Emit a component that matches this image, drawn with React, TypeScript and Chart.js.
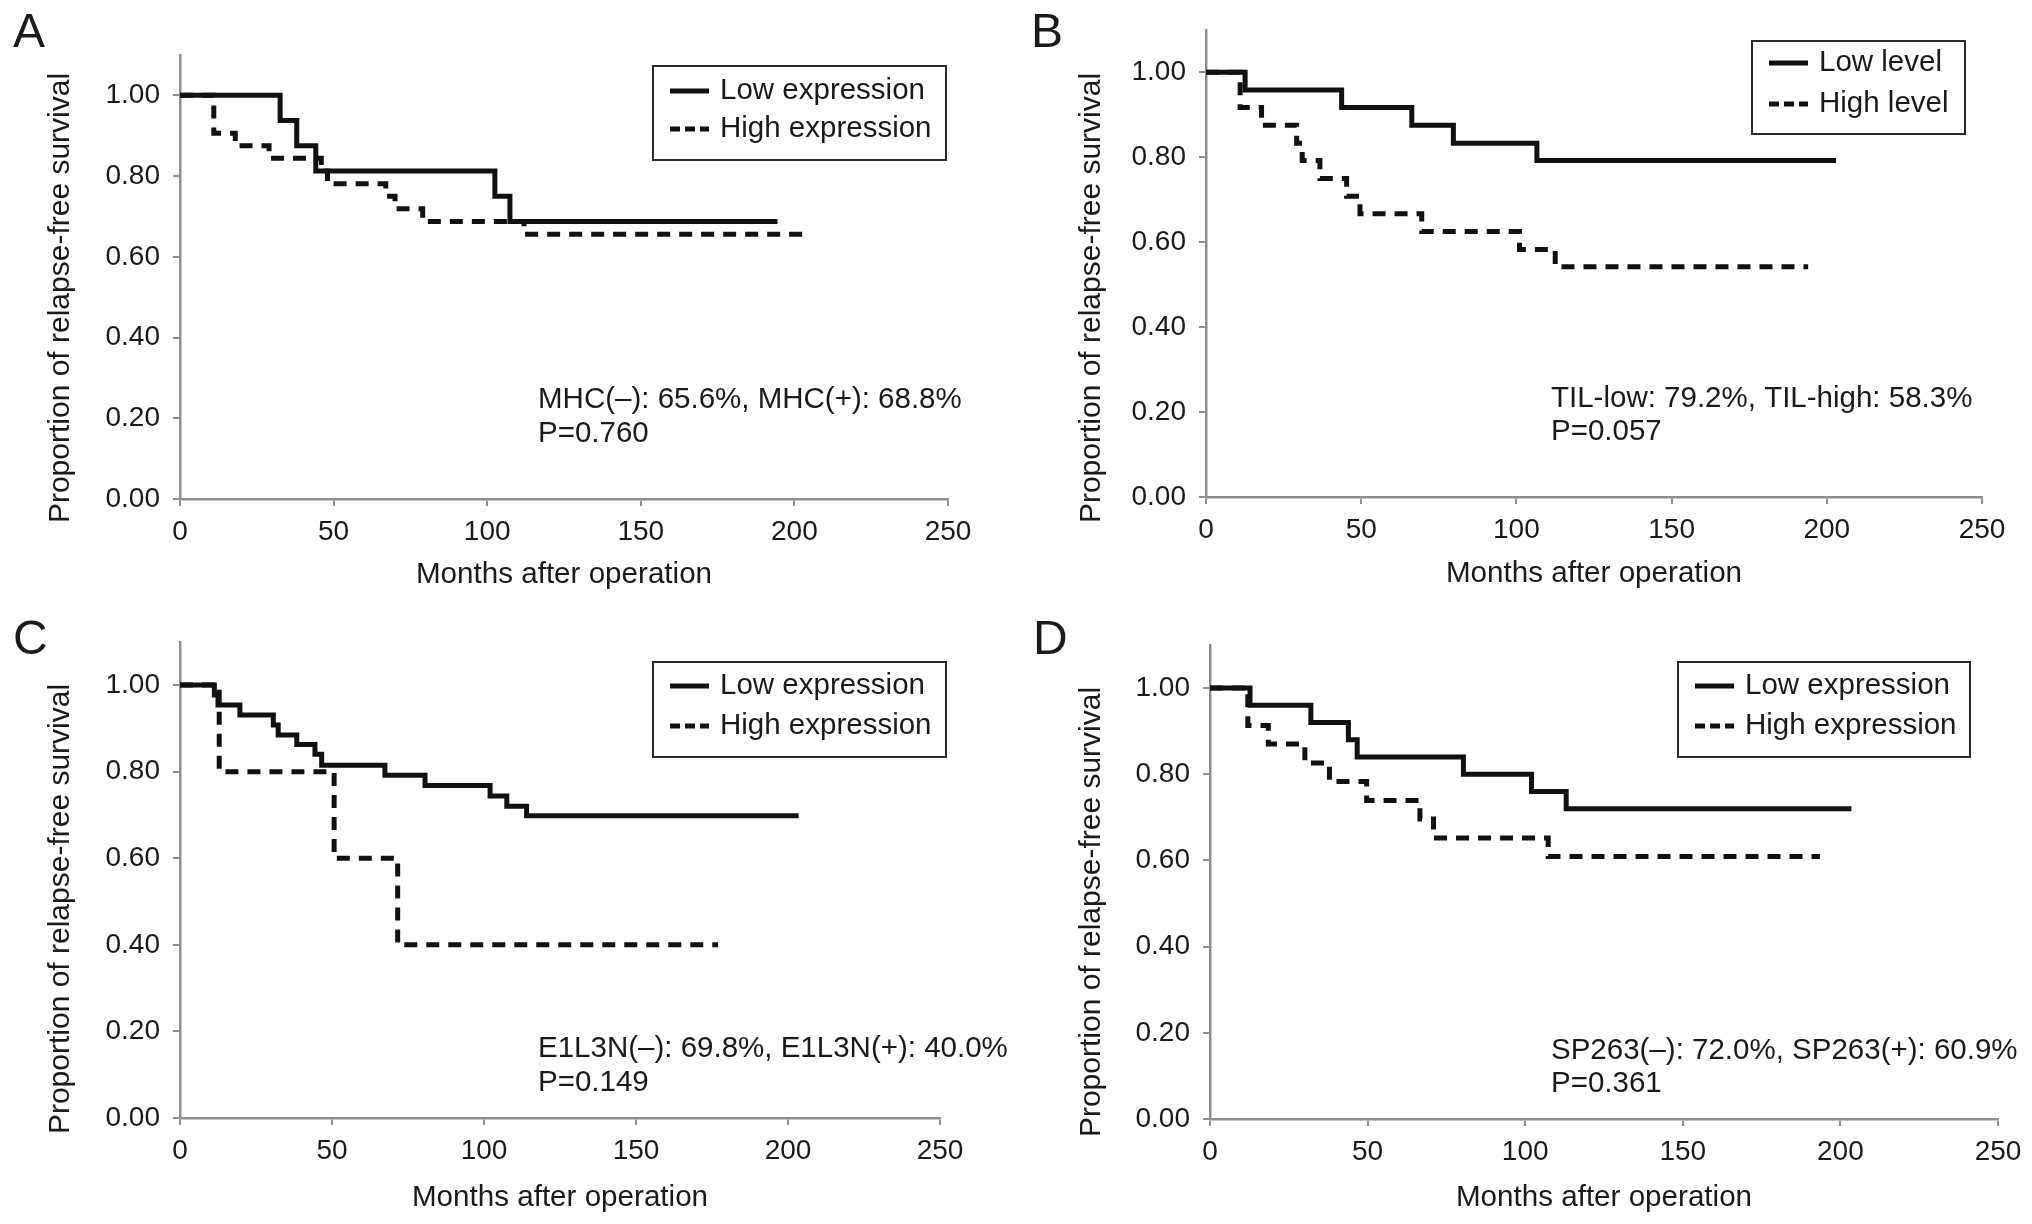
import React, { useEffect, useRef } from "react";
import { Chart, registerables } from "chart.js";

Chart.register(...registerables);

const FONT = '"Liberation Sans", Arial, Helvetica, sans-serif';

// ---------- data ----------
const xTickStep = 50;
const yTickStep = 0.2;
const yTitle = "Proportion of relapse-free survival";
const xTitle = "Months after operation";

// Panel A
const aLowMonths = [0, 32.6, 38, 44.2, 102.5, 107.4, 194.5];
const aLowSurv = [1, 0.9375, 0.875, 0.8125, 0.75, 0.6875, 0.6875];
const aHighMonths = [0, 11, 18, 29, 46, 48, 67, 70, 79, 112, 203];
const aHighSurv = [1, 0.906, 0.875, 0.844, 0.8125, 0.781, 0.75, 0.719, 0.6875, 0.656, 0.656];
const aLegend = ["Low expression", "High expression"];
const aNote = ["MHC(\u2013): 65.6%, MHC(+): 68.8%", "P=0.760"];

// Panel B
const bLowMonths = [0, 12.6, 43.7, 66.3, 79.7, 106.6, 203];
const bLowSurv = [1, 0.958, 0.917, 0.875, 0.833, 0.792, 0.792];
const bHighMonths = [0, 11, 17.9, 29.2, 31, 36.7, 45.3, 49.6, 69.5, 101, 112.5, 194];
const bHighSurv = [1, 0.917, 0.875, 0.833, 0.792, 0.75, 0.708, 0.667, 0.625, 0.583, 0.542, 0.542];
const bLegend = ["Low level", "High level"];
const bNote = ["TIL-low: 79.2%, TIL-high: 58.3%", "P=0.057"];

// Panel C
const cLowMonths = [0, 11.3, 12.5, 19.7, 30.7, 32.3, 38.4, 44.4, 46.6, 67.4, 80.6, 102, 107.5, 114, 203.5];
const cLowSurv = [1, 0.977, 0.954, 0.931, 0.908, 0.885, 0.863, 0.84, 0.815, 0.792, 0.768, 0.744, 0.72, 0.698, 0.698];
const cHighMonths = [0, 12.9, 50.7, 71.6, 177];
const cHighSurv = [1, 0.8, 0.6, 0.4, 0.4];
const cLegend = ["Low expression", "High expression"];
const cNote = ["E1L3N(\u2013): 69.8%, E1L3N(+): 40.0%", "P=0.149"];

// Panel D
const dLowMonths = [0, 12.7, 32, 43.9, 46.7, 80.4, 102, 113, 203.5];
const dLowSurv = [1, 0.96, 0.92, 0.88, 0.84, 0.8, 0.76, 0.72, 0.72];
const dHighMonths = [0, 12, 18.5, 30.1, 37.9, 49.7, 66.6, 70.9, 107.3, 193.5];
const dHighSurv = [1, 0.913, 0.87, 0.826, 0.783, 0.739, 0.696, 0.652, 0.609, 0.609];
const dLegend = ["Low expression", "High expression"];
const dNote = ["SP263(\u2013): 72.0%, SP263(+): 60.9%", "P=0.361"];

// ---------- layout (pixels, per panel canvas) ----------
const W = 1016;
const H = 612;

type Layout = {
  left: number; top: number; letter: string;
  plotL: number; plotR: number; plotT: number; plotB: number;
  legX: number; legY: number; legW: number; legH: number; row1: number; row2: number;
  noteX: number; note1: number; note2: number;
  yTitleX: number; yTitleY: number; xTitleY: number;
  letterTop: number; letterLeft: number;
};

const layouts: Layout[] = [
  { left: 0, top: 0, letter: "A", plotL: 180, plotR: 948, plotT: 55, plotB: 499,
    legX: 653, legY: 66, legW: 293, legH: 94, row1: 91, row2: 129,
    noteX: 538, note1: 400, note2: 434, yTitleX: 61, yTitleY: 298, xTitleY: 575,
    letterTop: 7, letterLeft: 13 },
  { left: 1016, top: 0, letter: "B", plotL: 190, plotR: 966, plotT: 23, plotB: 497,
    legX: 736, legY: 41, legW: 213, legH: 93, row1: 63, row2: 104,
    noteX: 535, note1: 399, note2: 432, yTitleX: 76, yTitleY: 298, xTitleY: 574,
    letterTop: 7, letterLeft: 15 },
  { left: 0, top: 612, letter: "C", plotL: 180, plotR: 940, plotT: 20, plotB: 506,
    legX: 653, legY: 50, legW: 293, legH: 95, row1: 74, row2: 114,
    noteX: 538, note1: 437, note2: 471, yTitleX: 61, yTitleY: 297, xTitleY: 586,
    letterTop: 2, letterLeft: 13 },
  { left: 1016, top: 612, letter: "D", plotL: 194, plotR: 982, plotT: 33, plotB: 507,
    legX: 662, legY: 50, legW: 292, legH: 95, row1: 74, row2: 114,
    noteX: 535, note1: 439, note2: 472, yTitleX: 76, yTitleY: 300, xTitleY: 586,
    letterTop: 2, letterLeft: 17 },
];

type PanelData = {
  lowM: number[]; lowS: number[]; highM: number[]; highS: number[];
  legend: string[]; note: string[];
};

const panels: PanelData[] = [
  { lowM: aLowMonths, lowS: aLowSurv, highM: aHighMonths, highS: aHighSurv, legend: aLegend, note: aNote },
  { lowM: bLowMonths, lowS: bLowSurv, highM: bHighMonths, highS: bHighSurv, legend: bLegend, note: bNote },
  { lowM: cLowMonths, lowS: cLowSurv, highM: cHighMonths, highS: cHighSurv, legend: cLegend, note: cNote },
  { lowM: dLowMonths, lowS: dLowSurv, highM: dHighMonths, highS: dHighSurv, legend: dLegend, note: dNote },
];

const AXIS = "#8f8f8f";
const INK = "#111111";
const TEXT = "#1a1a1a";
const CURVE_DASH = [13, 9];
const LEGEND_DASH = [10, 5];

function Panel({ lay, data }: { lay: Layout; data: PanelData }) {
  const ref = useRef<HTMLCanvasElement | null>(null);

  useEffect(() => {
    if (!ref.current) return;
    const toPts = (m: number[], s: number[]) => m.map((x, i) => ({ x, y: s[i] }));

    const textPlugin = {
      id: "panelText",
      afterDraw(chart: any) {
        const ctx: CanvasRenderingContext2D = chart.ctx;
        const area = chart.chartArea;
        ctx.save();
        ctx.fillStyle = TEXT;
        ctx.textBaseline = "middle";

        // y title
        ctx.save();
        ctx.font = `30px ${FONT}`;
        ctx.translate(lay.yTitleX, lay.yTitleY);
        ctx.rotate(-Math.PI / 2);
        ctx.textAlign = "center";
        ctx.fillText(yTitle, 0, 0);
        ctx.restore();

        // x title
        ctx.font = `29.6px ${FONT}`;
        ctx.textAlign = "center";
        ctx.fillText(xTitle, (area.left + area.right) / 2, lay.xTitleY);

        // annotation
        ctx.textAlign = "left";
        ctx.font = `29.5px ${FONT}`;
        ctx.fillText(data.note[0], lay.noteX, lay.note1);
        ctx.fillText(data.note[1], lay.noteX, lay.note2);

        // legend
        ctx.strokeStyle = "#2a2a2a";
        ctx.lineWidth = 2;
        ctx.setLineDash([]);
        ctx.strokeRect(lay.legX, lay.legY, lay.legW, lay.legH);
        const sx = lay.legX + 17;
        const sw = 39;
        ctx.strokeStyle = INK;
        ctx.lineWidth = 5;
        ctx.lineCap = "butt";
        ctx.beginPath();
        ctx.moveTo(sx, lay.row1);
        ctx.lineTo(sx + sw, lay.row1);
        ctx.stroke();
        ctx.setLineDash(LEGEND_DASH);
        ctx.beginPath();
        ctx.moveTo(sx, lay.row2);
        ctx.lineTo(sx + sw, lay.row2);
        ctx.stroke();
        ctx.setLineDash([]);
        ctx.font = `29.5px ${FONT}`;
        ctx.fillText(data.legend[0], sx + sw + 11, lay.row1);
        ctx.fillText(data.legend[1], sx + sw + 11, lay.row2);
        ctx.restore();
      },
    };

    const tickFont = { family: FONT, size: 28 };
    const chart = new Chart(ref.current, {
      type: "line",
      data: {
        datasets: [
          {
            label: data.legend[0],
            data: toPts(data.lowM, data.lowS),
            borderColor: INK,
            borderWidth: 5,
            stepped: true,
            pointRadius: 0,
            fill: false,
            borderCapStyle: "butt",
            borderJoinStyle: "miter",
          },
          {
            label: data.legend[1],
            data: toPts(data.highM, data.highS),
            borderColor: INK,
            borderWidth: 5,
            borderDash: CURVE_DASH,
            stepped: true,
            pointRadius: 0,
            fill: false,
            borderCapStyle: "butt",
            borderJoinStyle: "miter",
          },
        ],
      } as any,
      options: {
        animation: false,
        responsive: false,
        events: [],
        layout: { padding: { left: 0, top: lay.plotT, right: W - lay.plotR, bottom: 0 } },
        plugins: { legend: { display: false }, tooltip: { enabled: false }, title: { display: false } },
        scales: {
          x: {
            type: "linear",
            min: 0,
            max: 250,
            ticks: { stepSize: xTickStep, font: tickFont, color: TEXT, padding: 9, maxRotation: 0 },
            grid: { drawOnChartArea: false, drawTicks: true, tickLength: 7, color: AXIS, lineWidth: 2 },
            border: { display: true, color: AXIS, width: 2.5 },
            afterFit: (s: any) => { s.height = H - lay.plotB; },
          },
          y: {
            type: "linear",
            min: 0,
            max: 1.1,
            ticks: {
              stepSize: yTickStep,
              includeBounds: false,
              font: tickFont,
              color: TEXT,
              padding: 13,
              callback: (v: any) => Number(v).toFixed(2),
            },
            grid: { drawOnChartArea: false, drawTicks: true, tickLength: 7, color: AXIS, lineWidth: 2 },
            border: { display: true, color: AXIS, width: 2.5 },
            afterFit: (s: any) => { s.width = lay.plotL; },
          },
        },
      } as any,
      plugins: [textPlugin],
    });
    return () => chart.destroy();
  }, [lay, data]);

  return (
    <div style={{ position: "absolute", left: lay.left, top: lay.top, width: W, height: H }}>
      <canvas ref={ref} width={W} height={H} style={{ width: W, height: H, display: "block" }} />
      <div
        style={{
          position: "absolute",
          left: lay.letterLeft,
          top: lay.letterTop,
          fontFamily: FONT,
          fontSize: 48,
          lineHeight: "48px",
          color: TEXT,
        }}
      >
        {lay.letter}
      </div>
    </div>
  );
}

export default function App() {
  return (
    <div style={{ position: "absolute", left: 0, top: 0, width: 2032, height: 1224, background: "#fff", overflow: "hidden" }}>
      {layouts.map((lay, i) => (
        <Panel key={lay.letter} lay={lay} data={panels[i]} />
      ))}
    </div>
  );
}
